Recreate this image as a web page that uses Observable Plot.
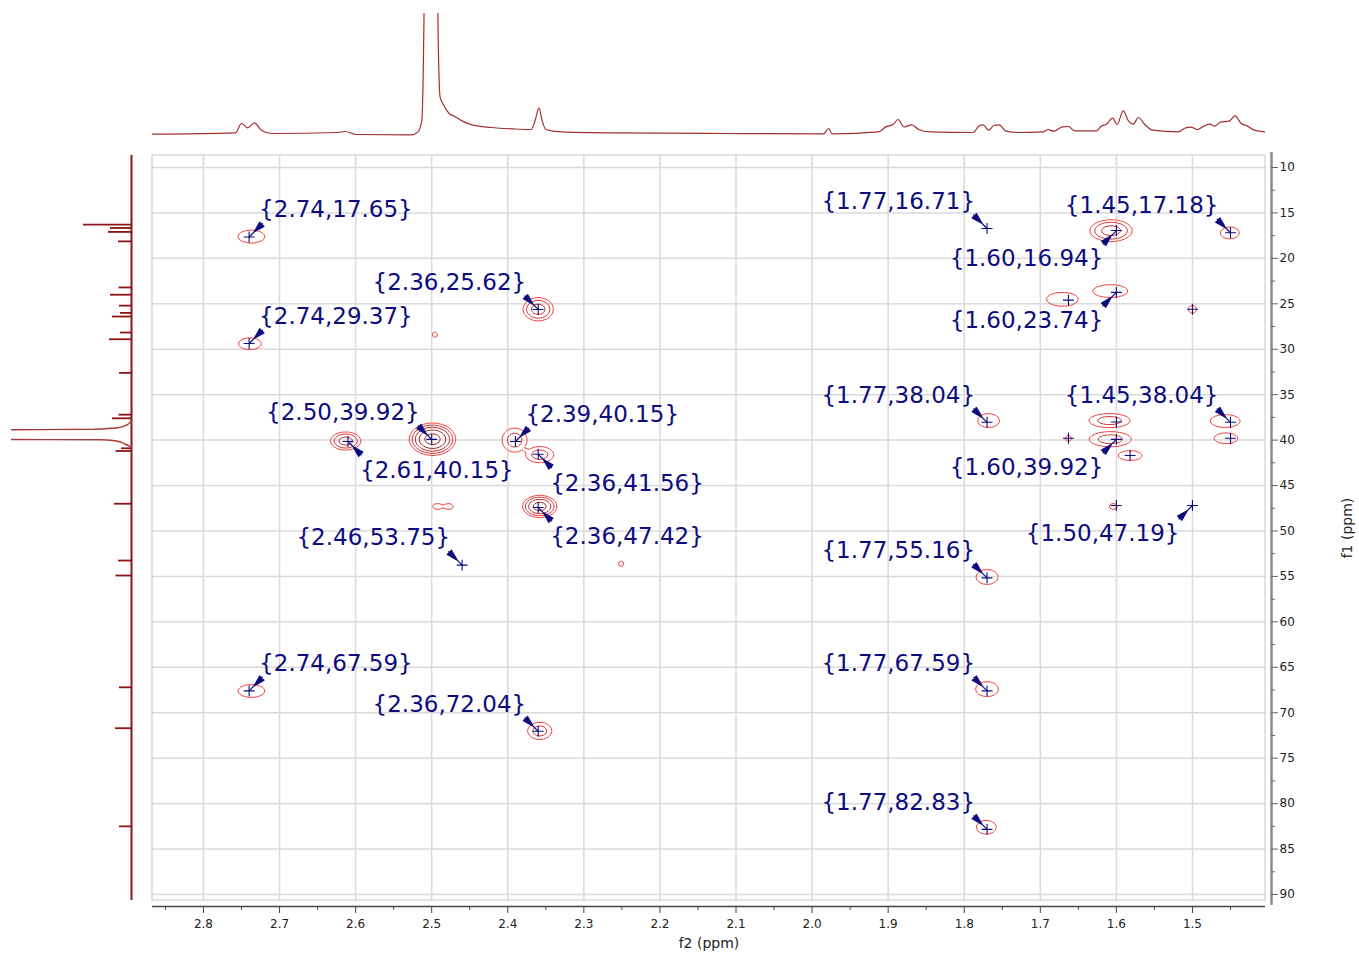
<!DOCTYPE html>
<html><head><meta charset="utf-8">
<script src="https://cdn.jsdelivr.net/npm/d3@7"></script>
<script src="https://cdn.jsdelivr.net/npm/@observablehq/plot@0.6"></script>
<style>
html,body{margin:0;padding:0;background:#fff;}
#wrap{position:relative;width:1359px;height:955px;overflow:hidden;}
#wrap > svg{position:absolute;top:0;left:0;}
</style></head><body><div id="wrap"></div>
<script>
// ---------- axes ----------
const f2Domain = [2.867, 1.404];          // left -> right (ppm)
const f1Domain = [90.66, 8.68];           // bottom -> top (ppm)
const f2Ticks = [2.8, 2.7, 2.6, 2.5, 2.4, 2.3, 2.2, 2.1, 2.0, 1.9, 1.8, 1.7, 1.6, 1.5];
const f2TickLabels = ["2.8","2.7","2.6","2.5","2.4","2.3","2.2","2.1","2.0","1.9","1.8","1.7","1.6","1.5"];
const f2MinorTicks = [2.85, 2.75, 2.65, 2.55, 2.45, 2.35, 2.25, 2.15, 2.05, 1.95, 1.85, 1.75, 1.65, 1.55, 1.45];
const f1Ticks = [10, 15, 20, 25, 30, 35, 40, 45, 50, 55, 60, 65, 70, 75, 80, 85, 90];
const f1TickLabels = ["10","15","20","25","30","35","40","45","50","55","60","65","70","75","80","85","90"];
const f1MinorTicks = [12.5, 17.5, 22.5, 27.5, 32.5, 37.5, 42.5, 47.5, 52.5, 57.5, 62.5, 67.5, 72.5, 77.5, 82.5, 87.5];
const f2Title = "f2 (ppm)";
const f1Title = "f1 (ppm)";

// ---------- labelled cross peaks ----------
const labelF2 = [2.74, 2.74, 2.36, 2.50, 2.61, 2.39, 2.36, 2.36, 2.46, 2.74, 2.36, 1.77, 1.60, 1.45, 1.60, 1.77, 1.45, 1.60, 1.50, 1.77, 1.77, 1.77];
const labelF1 = [17.65, 29.37, 25.62, 39.92, 40.15, 40.15, 41.56, 47.42, 53.75, 67.59, 72.04, 16.71, 16.94, 17.18, 23.74, 38.04, 38.04, 39.92, 47.19, 55.16, 67.59, 82.83];
const labelSide = ["UR","UR","UL","UL","DR","UR","DR","DR","UL","UR","UL","UL","DL","UL","DL","UL","UL","DL","DL","UL","UL","UL"];

// unlabelled peak-pick crosses
const extraF2 = [1.663, 1.50, 1.60, 1.663, 1.582, 1.45, 1.60];
const extraF1 = [24.6, 25.6, 38.0, 39.8, 41.7, 39.8, 47.2];

// ---------- 2D contour peaks (centre, half-widths in ppm, number of contour levels) ----------
const cF2 = [2.737, 2.739, 2.360, 2.499, 2.613, 2.391, 2.358, 2.358, 2.492, 2.478, 2.496, 2.251, 2.737, 2.358,
             1.607, 1.451, 1.608, 1.671, 1.500, 1.768, 1.609, 1.608, 1.663, 1.582, 1.457, 1.456, 1.604, 1.770, 1.770, 1.771];
const cF1 = [17.6, 29.4, 25.6, 39.9, 40.1, 40.0, 41.6, 47.3, 47.3, 47.3, 28.4, 53.6, 67.6, 72.0,
             16.95, 17.2, 23.6, 24.5, 25.6, 37.85, 37.85, 39.9, 39.8, 41.7, 37.9, 39.8, 47.3, 55.06, 67.4, 82.6];
const cW2 = [0.0177, 0.0151, 0.0197, 0.0302, 0.0197, 0.0164, 0.0184, 0.0223, 0.0066, 0.0066, 0.0035, 0.0035, 0.0177, 0.0158,
             0.0276, 0.0125, 0.0230, 0.0210, 0.0053, 0.0145, 0.0270, 0.0276, 0.0040, 0.0158, 0.0197, 0.0158, 0.0053, 0.0145, 0.0151, 0.0131];
const cW1 = [0.72, 0.66, 1.27, 1.76, 0.99, 1.32, 0.88, 1.21, 0.33, 0.33, 0.30, 0.30, 0.72, 0.94,
             1.19, 0.66, 0.72, 0.77, 0.44, 0.77, 0.77, 0.83, 0.33, 0.55, 0.72, 0.60, 0.33, 0.83, 0.83, 0.77];
const cLevels = [1, 1, 3, 5, 3, 2, 2, 4, 1, 1, 1, 1, 1, 2,
                 3, 1, 1, 1, 1, 1, 2, 2, 1, 1, 1, 1, 1, 1, 1, 1];
const contourThresholds = [1, 2, 3, 4, 5];

// ---------- 1H projection (top) ----------
const topShift = [2.868, 2.758, 2.750, 2.742, 2.733, 2.724, 2.710, 2.623, 2.614, 2.599, 2.527, 2.518, 2.513, 2.510, 2.501, 2.492, 2.489, 2.484, 2.477, 2.470, 2.460, 2.446, 2.422, 2.393, 2.369, 2.364, 2.359, 2.355, 2.350, 2.330, 2.259, 2.114, 1.985, 1.978, 1.974, 1.913, 1.903, 1.893, 1.887, 1.879, 1.869, 1.860, 1.845, 1.788, 1.781, 1.775, 1.768, 1.761, 1.754, 1.745, 1.730, 1.696, 1.690, 1.682, 1.671, 1.663, 1.655, 1.626, 1.620, 1.613, 1.605, 1.599, 1.591, 1.584, 1.578, 1.571, 1.563, 1.552, 1.519, 1.509, 1.502, 1.494, 1.485, 1.477, 1.471, 1.463, 1.452, 1.444, 1.436, 1.428, 1.419, 1.400];
const topInt = [-0.7, 0.6, 10, 5.6, 10.6, 3.3, 0, 1, 2, -1, -1.4, 1.6, 13, 125, 1500, 125, 36.6, 28, 20, 17.3, 12.6, 8.3, 6, 4.6, 4, 13.3, 25.6, 13.3, 4, 1.6, 0.6, 0, -0.3, 5, -0.3, 1.6, 6.6, 9.3, 14, 6.6, 8.6, 4, 1.6, 1, 7.3, 8.6, 3.3, 8, 8.6, 2.3, 1, 1.6, 4, 2.3, 6.6, 7, 2.6, 2.6, 7.3, 9.3, 15.3, 9, 22.6, 12.3, 9.3, 16, 9.3, 3.3, 1.6, 5.6, 6.3, 4, 7.3, 9.3, 7.3, 11.3, 12.3, 17.6, 10, 7.6, 3.3, 1.3];

// ---------- 13C projection (left) ----------
const leftShift = [16.28, 16.65, 17.09, 18.13, 23.2, 24.0, 25.2, 26.0, 26.4, 28.16, 28.9, 32.6, 37.2, 37.6, 40.9, 41.2, 47.0, 53.25, 54.9, 67.2, 71.7, 82.5];
const leftInt = [48, 21, 23, 13, 12.5, 21, 12, 11, 19, 11, 22, 12, 12.5, 19, 10, 15.5, 17, 13, 15.5, 12, 16, 12];
const solventShift = [37.84, 38.39, 38.64, 38.80, 38.86, 39.38, 39.93, 39.96, 40.12, 40.40, 40.77];
const solventInt = [0, 5.5, 14, 37, 125, 1500, 125, 31, 14, 7, 0];

// ---------- styles ----------
const NAVY = "#0c0c7e";
const FONT = "DejaVu Sans";
const sideStyle = {
  UR: {dx: 10, dy: -27, anchor: "start", rotate: 45},
  UL: {dx: -12, dy: -27, anchor: "end", rotate: -45},
  DR: {dx: 12, dy: 29, anchor: "start", rotate: 135},
  DL: {dx: -13, dy: 28, anchor: "end", rotate: 225}
};

// ---------- tables ----------
const labels = labelF2.map((x, i) => ({x, y: labelF1[i], side: labelSide[i],
  text: `{${x.toFixed(2)},${labelF1[i].toFixed(2)}}`}));
const crosses = labels.map(d => ({x: d.x, y: d.y})).concat(extraF2.map((x, i) => ({x, y: extraF1[i]})));
const topData = topShift.map((p, i) => ({p, v: topInt[i]}));
const leftData = leftShift.map((p, i) => ({p, v: leftInt[i]}));
const solventData = solventShift.map((p, i) => ({p, v: solventInt[i]}));

function field(x, y) {
  let s = 0;
  for (let i = 0; i < cF2.length; ++i) {
    const u = (x - cF2[i]) / cW2[i]; if (u > 1.5 || u < -1.5) continue;
    const v = (y - cF1[i]) / cW1[i]; if (v > 1.5 || v < -1.5) continue;
    const d2 = u * u + v * v;
    const c = cLevels[i] + 0.5;
    if (d2 <= 1) s += c * (1 - (1 - 1 / c) * d2);
    else { const d = Math.sqrt(d2); if (d < 1.4) s += 1 - (d - 1) * 2.5; }
  }
  return s;
}

const wedge = {
  draw(context, l) {
    context.moveTo(0, 0);
    context.lineTo(0, -l);
    context.moveTo(0, -l + 12);
    context.lineTo(-3, -l + 1);
    context.lineTo(3, -l + 1);
    context.closePath();
  }
};

const svgStyle = `background: transparent; font-family: '${FONT}';`;

// ---------- main 2D plot ----------
const mainMarks = [
  Plot.ruleX(f2Ticks, {y1: f1Domain[0], y2: f1Domain[1], stroke: "#dadada", strokeWidth: 1.5}),
  Plot.ruleY(f1Ticks, {x1: f2Domain[0], x2: f2Domain[1], stroke: "#dadada", strokeWidth: 1.5}),
  Plot.rect([0], {x1: f2Domain[0], x2: f2Domain[1], y1: f1Domain[0], y2: f1Domain[1], fill: "none", stroke: "#c6c6c6"}),
  Plot.contour({value: field, x1: f2Domain[0], x2: f2Domain[1], y1: f1Domain[1], y2: f1Domain[0],
    thresholds: contourThresholds, stroke: "value", fill: "none", strokeWidth: 1, pixelSize: 1}),
  Plot.dot(crosses, {x: "x", y: "y", symbol: "plus", r: 3.6, stroke: NAVY, strokeWidth: 1.1}),
  Plot.vector(labels, {x: "x", y: "y", length: 19, rotate: d => sideStyle[d.side].rotate, anchor: "start",
    shape: wedge, stroke: NAVY, fill: NAVY, strokeWidth: 1.2}),
  ...Object.keys(sideStyle).map(side => Plot.text(labels.filter(d => d.side === side), {
    x: "x", y: "y", text: "text", dx: sideStyle[side].dx, dy: sideStyle[side].dy,
    textAnchor: sideStyle[side].anchor, fontSize: 23, fontFamily: FONT, fill: NAVY})),
  // bottom axis
  Plot.ruleY([f1Domain[0]], {x1: f2Domain[0], x2: f2Domain[1], dy: 6, stroke: "#444", strokeWidth: 1.3}),
  Plot.ruleX(f2Ticks, {y1: f1Domain[0], y2: f1Domain[0], insetBottom: -7, dy: 6, stroke: "#444"}),
  Plot.ruleX(f2MinorTicks, {y1: f1Domain[0], y2: f1Domain[0], insetBottom: -4, dy: 6, stroke: "#444"}),
  Plot.text(f2Ticks, {x: d => d, y: f1Domain[0], dy: 24, text: (d, i) => f2TickLabels[i], fontSize: 12, fontFamily: FONT, fill: "#222"}),
  Plot.text([f2Title], {frameAnchor: "bottom", textAnchor: "middle", lineAnchor: "middle", dy: 37, dx: -3, text: d => d, fontSize: 14, fontFamily: FONT, fill: "#222"}),
  // right axis
  Plot.ruleX([f2Domain[1]], {y1: f1Domain[1], y2: f1Domain[0], dx: 6, insetTop: -3, insetBottom: -5, stroke: "#8c8c8c", strokeWidth: 2.5}),
  Plot.ruleY(f1Ticks, {x1: f2Domain[1], x2: f2Domain[1], insetRight: -7, dx: 6, stroke: "#666"}),
  Plot.ruleY(f1MinorTicks, {x1: f2Domain[1], x2: f2Domain[1], insetRight: -4, dx: 6, stroke: "#666"}),
  Plot.text(f1Ticks, {x: f2Domain[1], y: d => d, dx: 14, text: (d, i) => f1TickLabels[i], textAnchor: "start", fontSize: 12, fontFamily: FONT, fill: "#222"}),
  Plot.text([f1Title], {frameAnchor: "right", textAnchor: "middle", lineAnchor: "middle", dx: 76, dy: -3, rotate: -90, text: d => d, fontSize: 14, fontFamily: FONT, fill: "#222"})
];

const mainPlot = Plot.plot({
  width: 1359, height: 955,
  marginLeft: 152, marginRight: 88, marginTop: 155, marginBottom: 49,
  x: {domain: f2Domain, insetRight: 6, axis: null},
  y: {domain: f1Domain, insetBottom: 6, axis: null},
  color: {type: "linear", domain: [1, 4], range: ["#f04545", "#a32828"], clamp: true},
  style: svgStyle,
  marks: mainMarks
});

// ---------- top 1H projection ----------
const topPlot = Plot.plot({
  width: 1359, height: 140,
  marginLeft: 152, marginRight: 94, marginTop: 13, marginBottom: 3,
  x: {domain: f2Domain, axis: null},
  y: {domain: [-4, 120], axis: null},
  style: svgStyle,
  marks: [Plot.line(topData, {x: "p", y: "v", curve: "monotone-x", stroke: "#a3302f", strokeWidth: 1.2, clip: true})]
});

// ---------- left 13C projection ----------
const leftPlot = Plot.plot({
  width: 140, height: 955,
  marginLeft: 11, marginRight: 5, marginTop: 155, marginBottom: 49,
  x: {domain: [120, -4], axis: null},
  y: {domain: f1Domain, insetBottom: 6, axis: null},
  style: svgStyle,
  marks: [
    Plot.ruleX([0], {y1: f1Domain[1], y2: f1Domain[0], stroke: "#8b1515", strokeWidth: 2}),
    Plot.ruleY(leftData, {y: "p", x1: 0, x2: "v", stroke: "#8b1515", strokeWidth: 1.8}),
    Plot.line(solventData, {x: "v", y: "p", curve: "monotone-y", stroke: "#a83a3a", strokeWidth: 1.4, clip: true})
  ]
});

const wrap = document.getElementById("wrap");
wrap.appendChild(mainPlot);
wrap.appendChild(topPlot);
wrap.appendChild(leftPlot);
</script>
</body></html>
